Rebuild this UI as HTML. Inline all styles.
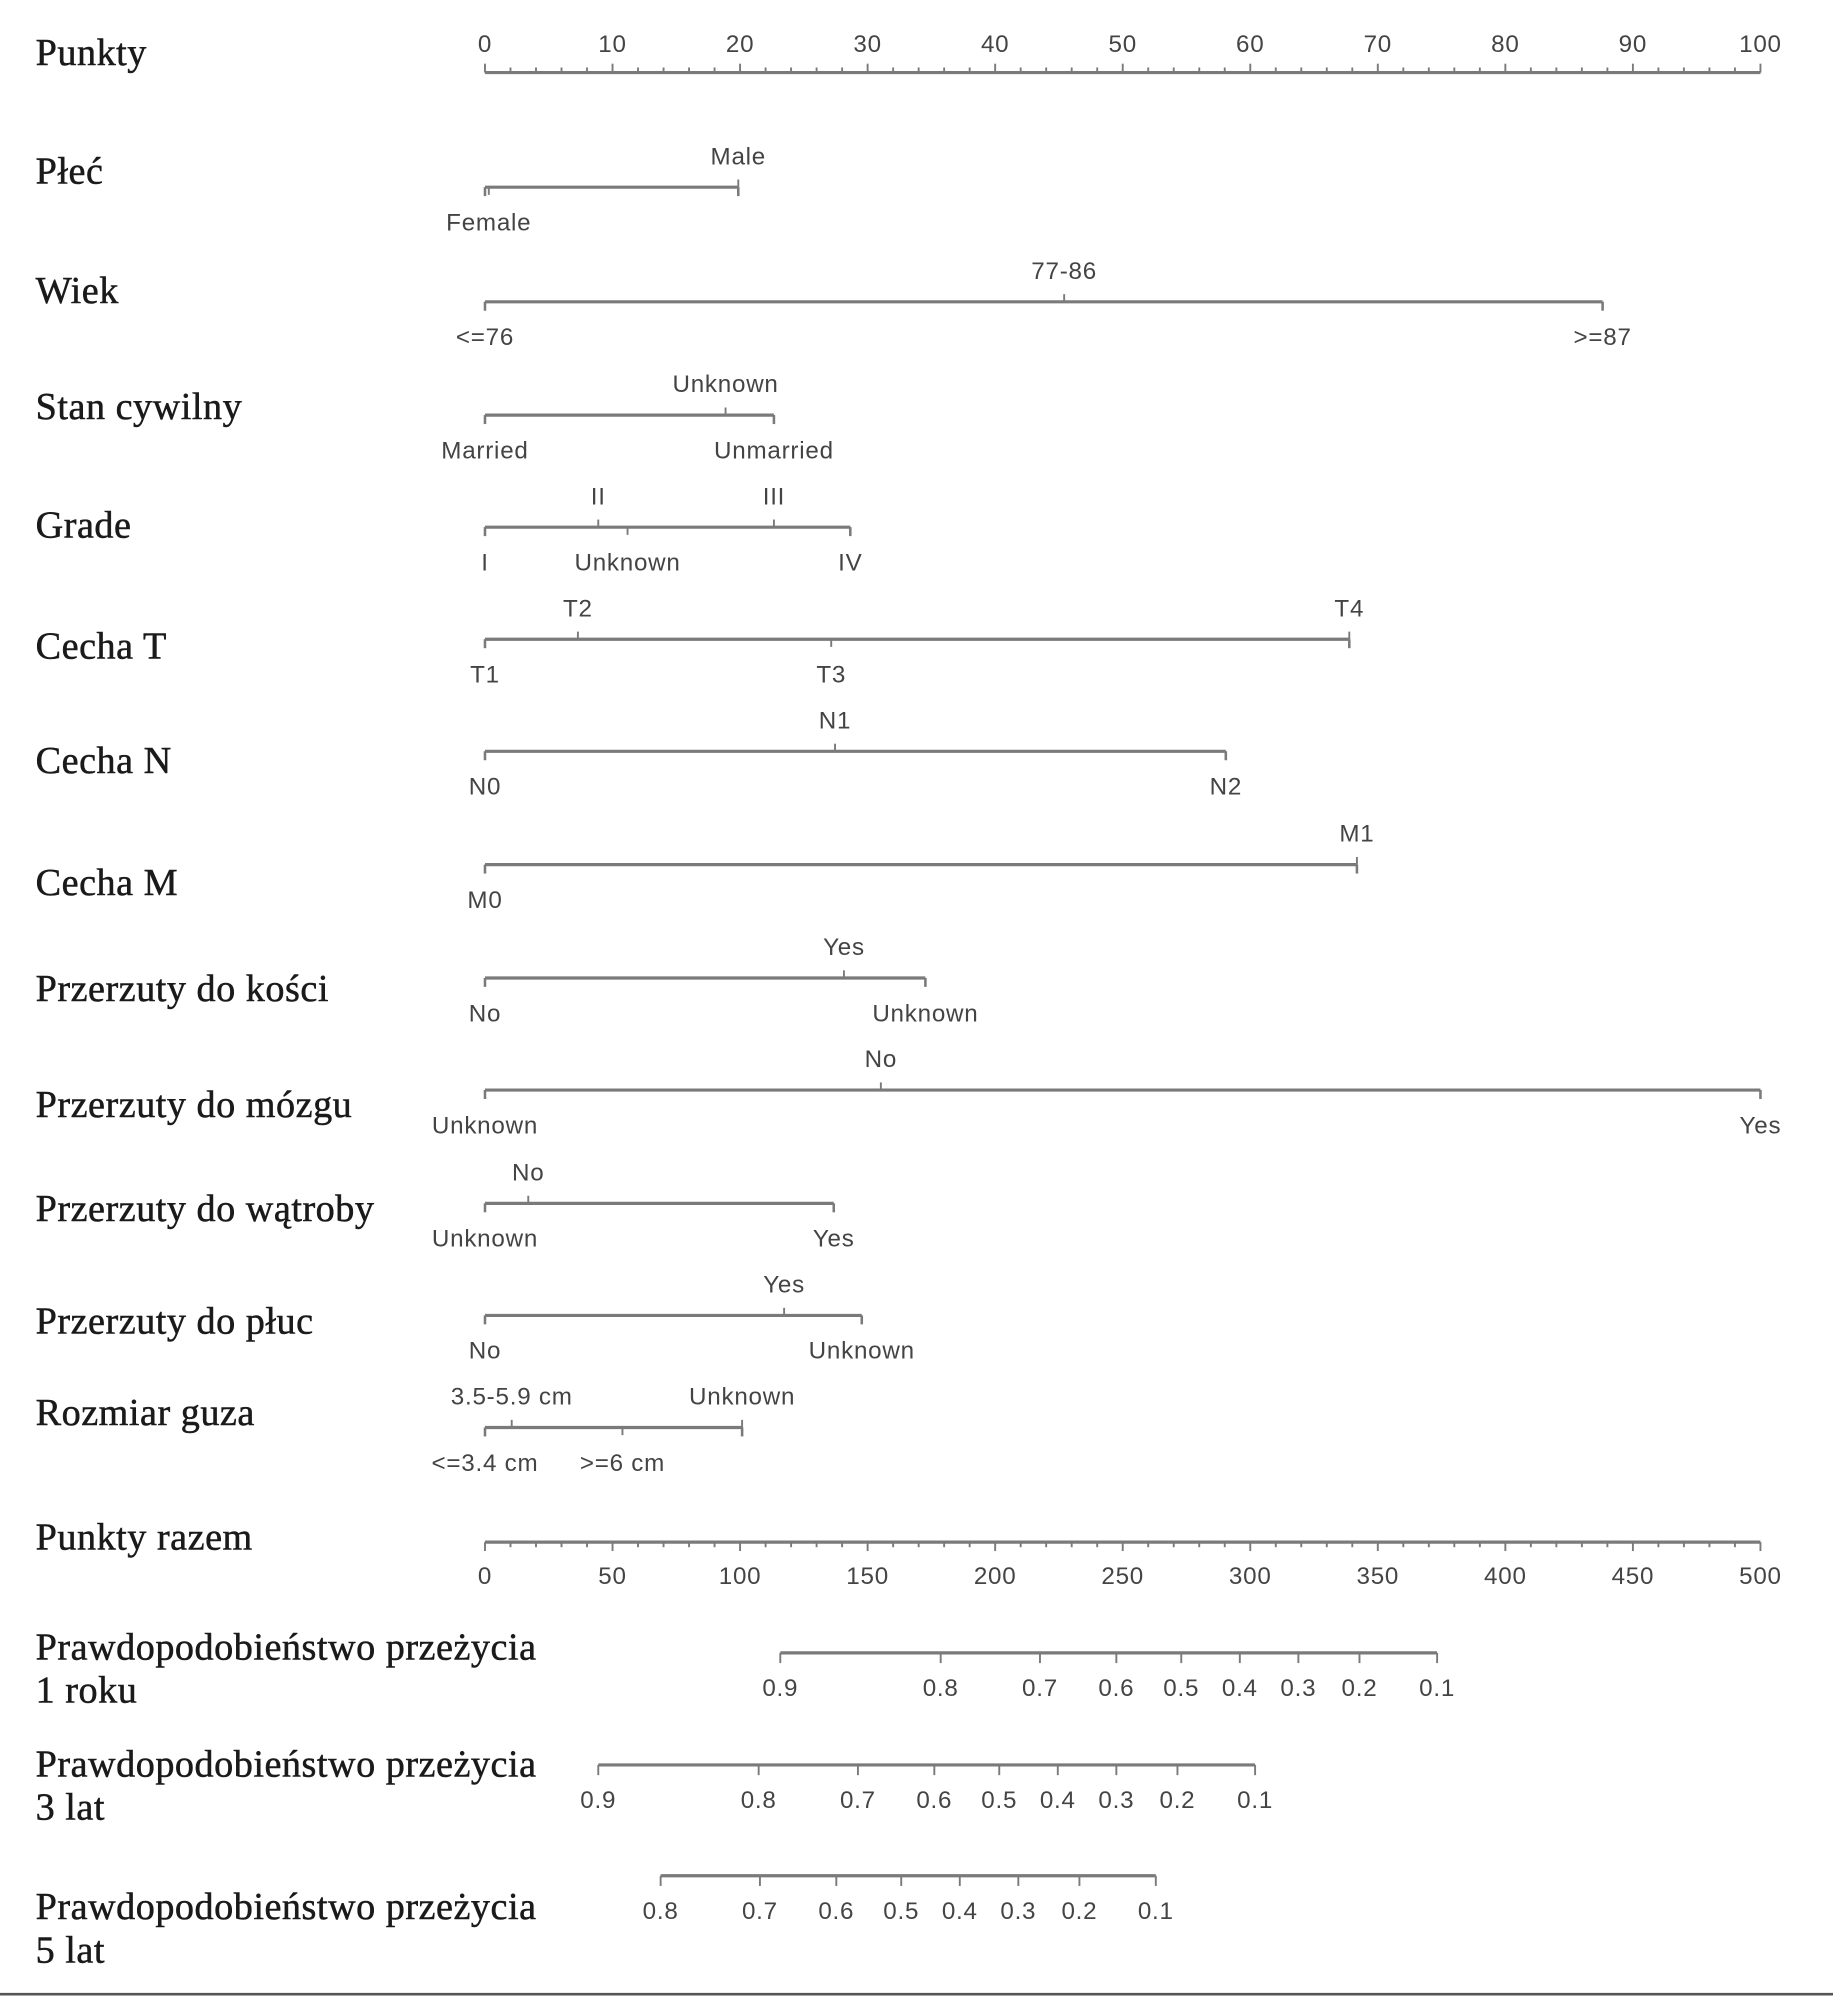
<!DOCTYPE html>
<html><head><meta charset="utf-8"><style>
html,body{margin:0;padding:0;background:#fff;}
svg{display:block;}
.l{font-family:"Liberation Serif",serif;font-size:30px;fill:#1a1a1a;stroke:#1a1a1a;stroke-width:0.4;letter-spacing:0.4px;}
.t{font-family:"Liberation Sans",sans-serif;font-size:19px;fill:#444;text-anchor:middle;letter-spacing:0.6px;}
</style></head><body>
<svg id="s" width="1833" height="1998" viewBox="0 0 1440 1569" preserveAspectRatio="none" xmlns="http://www.w3.org/2000/svg">
<line x1="0" y1="1566" x2="1440" y2="1566" stroke="#555" stroke-width="2"/>
</svg>
<script>
var s=document.getElementById('s'),NS='http://www.w3.org/2000/svg';
function el(n,a,txt){var e=document.createElementNS(NS,n);for(var k in a)e.setAttribute(k,a[k]);if(txt!==undefined)e.textContent=txt;s.appendChild(e);return e;}
function ln(x1,y1,x2,y2,w){el('line',{x1:x1,y1:y1,x2:x2,y2:y2,stroke:'#7a7a7a','stroke-width':w||2});}
function lab(t,y){el('text',{x:28,y:y+9,'class':'l'},t);}
function tx(t,x,y){el('text',{x:x,y:y+7,'class':'t'},t);}
var X0=381,X1=1383;function px(p){return X0+(X1-X0)*p/100;}
lab('Punkty',42);
ln(X0,57,X1,57,2.5);
for(var i=0;i<=50;i++){var x=px(i*2);ln(x,57,x,i%5==0?50:53,1.5);}
for(var i=0;i<=10;i++)tx(String(i*10),px(i*10),34);
function row(name,ly,y,x2,up,down){
 lab(name,ly);ln(X0,y,x2,y,2.5);ln(X0,y,X0,y+7,2);ln(x2,y,x2,y+7,2);
 up.forEach(function(u){ln(u[1],y,u[1],y-6,1.5);tx(u[0],u[1],y-25);});
 down.forEach(function(d){ln(d[1],y,d[1],y+6,1.5);tx(d[0],d[1],y+27);});
}
row('Płeć',135,147,580,[['Male',580]],[['Female',384]]);
row('Wiek',229,237,1259,[['77-86',836]],[['<=76',381],['>=87',1259]]);
row('Stan cywilny',320,326,608,[['Unknown',570]],[['Married',381],['Unmarried',608]]);
row('Grade',413,414,668,[['II',470],['III',608]],[['I',381],['Unknown',493],['IV',668]]);
row('Cecha T',508,502,1060,[['T2',454],['T4',1060]],[['T1',381],['T3',653]]);
row('Cecha N',598,590,963,[['N1',656]],[['N0',381],['N2',963]]);
row('Cecha M',694,679,1066,[['M1',1066]],[['M0',381]]);
row('Przerzuty do kości',777,768,727,[['Yes',663]],[['No',381],['Unknown',727]]);
row('Przerzuty do mózgu',868,856,1383,[['No',692]],[['Unknown',381],['Yes',1383]]);
row('Przerzuty do wątroby',950,945,655,[['No',415]],[['Unknown',381],['Yes',655]]);
row('Przerzuty do płuc',1038,1033,677,[['Yes',616]],[['No',381],['Unknown',677]]);
row('Rozmiar guza',1110,1121,583,[['3.5-5.9 cm',402],['Unknown',583]],[['<=3.4 cm',381],['>=6 cm',489]]);
lab('Punkty razem',1208);
ln(X0,1211,X1,1211,2.5);
for(var i=0;i<=50;i++){var x=px(i*2);ln(x,1211,x,i%5==0?1218:1215,1.5);}
for(var i=0;i<=10;i++)tx(String(i*50),px(i*10),1237);
function prob(l1,l2,ly,y,ticks){
 lab(l1,ly);lab(l2,ly+34);
 ln(ticks[0][1],y,ticks[ticks.length-1][1],y,2.5);
 ticks.forEach(function(t){ln(t[1],y,t[1],y+8,1.5);tx(t[0],t[1],y+27);});
}
prob('Prawdopodobieństwo przeżycia','1 roku',1294,1298,[['0.9',613],['0.8',739],['0.7',817],['0.6',877],['0.5',928],['0.4',974],['0.3',1020],['0.2',1068],['0.1',1129]]);
prob('Prawdopodobieństwo przeżycia','3 lat',1386,1386,[['0.9',470],['0.8',596],['0.7',674],['0.6',734],['0.5',785],['0.4',831],['0.3',877],['0.2',925],['0.1',986]]);
prob('Prawdopodobieństwo przeżycia','5 lat',1498,1473,[['0.8',519],['0.7',597],['0.6',657],['0.5',708],['0.4',754],['0.3',800],['0.2',848],['0.1',908]]);
</script>
</body></html>
